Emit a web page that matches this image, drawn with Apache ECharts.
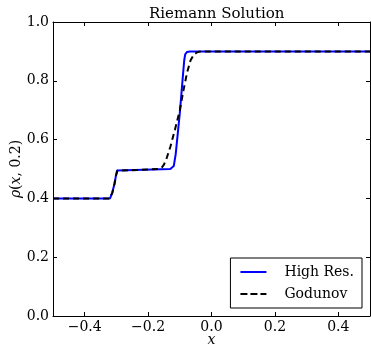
<!DOCTYPE html>
<html><head><meta charset="utf-8">
<script src="https://cdn.jsdelivr.net/npm/echarts@6/dist/echarts.min.js"></script>
<style>html,body{margin:0;padding:0;background:#fff}#c{width:371px;height:352px}</style>
</head><body><div id="c"></div>
<script>
const highResX = [-0.5,-0.32,-0.317,-0.313,-0.306,-0.301,-0.298,-0.294,-0.13,-0.124,-0.119,-0.116,-0.113,-0.1,-0.09,-0.086,-0.083,-0.077,-0.068,0.5];
const highResY = [0.4,0.4,0.403,0.42,0.45,0.48,0.495,0.5,0.5,0.502,0.51,0.53,0.55,0.69,0.82,0.87,0.89,0.898,0.9,0.9];
const godunovX = [-0.5,-0.322,-0.317,-0.313,-0.306,-0.301,-0.297,-0.292,-0.165,-0.157,-0.15,-0.142,-0.13,-0.115,-0.1,-0.088,-0.077,-0.066,-0.055,-0.045,-0.035,0.5];
const godunovY = [0.4,0.4,0.403,0.418,0.45,0.478,0.494,0.5,0.5,0.505,0.515,0.535,0.575,0.635,0.7,0.77,0.828,0.87,0.89,0.897,0.9,0.9];
const xTicks = [-0.4,-0.2,0.0,0.2,0.4];
const yTicks = [0.0,0.2,0.4,0.6,0.8,1.0];

const F = 'DejaVu Serif';
const fmt = v => (v < 0 ? '\u2212' : '') + Math.abs(v).toFixed(1);
const zip = (a,b) => a.map((v,i)=>[v,b[i]]);
const tick = {show:true, inside:true, length:4, lineStyle:{color:'#000', width:1}};
const line = {show:true, onZero:false, lineStyle:{color:'#000', width:1}};
const chart = echarts.init(document.getElementById('c'), null, {renderer:'canvas'});
chart.setOption({
  animation:false,
  title:{text:'Riemann Solution', left:144, top:2, textStyle:{fontFamily:F, fontWeight:'normal', fontSize:15, color:'#000'}},
  grid:{left:53, right:1, top:22, bottom:36, outerBoundsMode:'none', containLabel:false},
  xAxis:[
    {type:'value', min:-0.5, max:0.5, interval:0.1, position:'bottom',
     axisLine:line, splitLine:{show:false},
     axisTick:Object.assign({}, tick, {customValues:xTicks}),
     axisLabel:{customValues:xTicks, formatter:fmt, fontFamily:F, fontSize:14, color:'#000', margin:4},
     name:'x', nameLocation:'middle', nameGap:17, nameMoveOverlap:false,
     nameTextStyle:{fontFamily:F, fontStyle:'italic', fontSize:14, color:'#000'}},
    {type:'value', min:-0.5, max:0.5, position:'top', axisLine:line, splitLine:{show:false},
     axisTick:Object.assign({}, tick, {customValues:xTicks}), axisLabel:{show:false}}
  ],
  yAxis:[
    {type:'value', min:0, max:1, interval:0.2, position:'left', axisLine:line, splitLine:{show:false},
     axisTick:tick, axisLabel:{formatter:v=>v.toFixed(1), fontFamily:F, fontSize:14, color:'#000', margin:4},
     name:'{i|\u03c1}{n|(}{i|x}{n|, 0.2)}', nameLocation:'middle', nameGap:30, nameRotate:90, nameMoveOverlap:false,
     nameTextStyle:{fontFamily:F, fontSize:14, color:'#000',
       rich:{i:{fontFamily:F, fontStyle:'italic', fontSize:14, color:'#000'}, n:{fontFamily:F, fontSize:14, color:'#000'}}}},
    {type:'value', min:0, max:1, interval:0.2, position:'right', axisLine:line, splitLine:{show:false},
     axisTick:tick, axisLabel:{show:false}}
  ],
  legend:{orient:'vertical', right:9, bottom:44, itemWidth:26, itemHeight:10, itemGap:8,
    padding:[7,8,7,10], borderColor:'#000', borderWidth:1, borderRadius:0, backgroundColor:'#fff',
    textStyle:{fontFamily:F, fontSize:14, color:'#000', padding:[0,0,0,13]},
    data:[{name:'High Res.', icon:'path://M0,4h26v2h-26z', itemStyle:{color:'#0000ff'}},
          {name:'Godunov', icon:'path://M0,4h7v2h-7zM10,4h7v2h-7zM20,4h6v2h-6z', itemStyle:{color:'#000'}}]},
  series:[
    {name:'High Res.', type:'line', data:zip(highResX, highResY), showSymbol:false, symbol:'none',
     lineStyle:{color:'#0000ff', width:2}, itemStyle:{color:'#0000ff'}, z:2},
    {name:'Godunov', type:'line', data:zip(godunovX, godunovY), showSymbol:false, symbol:'none',
     lineStyle:{color:'#000', width:2, type:[6,4]}, itemStyle:{color:'#000'}, z:3}
  ]
});
</script></body></html>
